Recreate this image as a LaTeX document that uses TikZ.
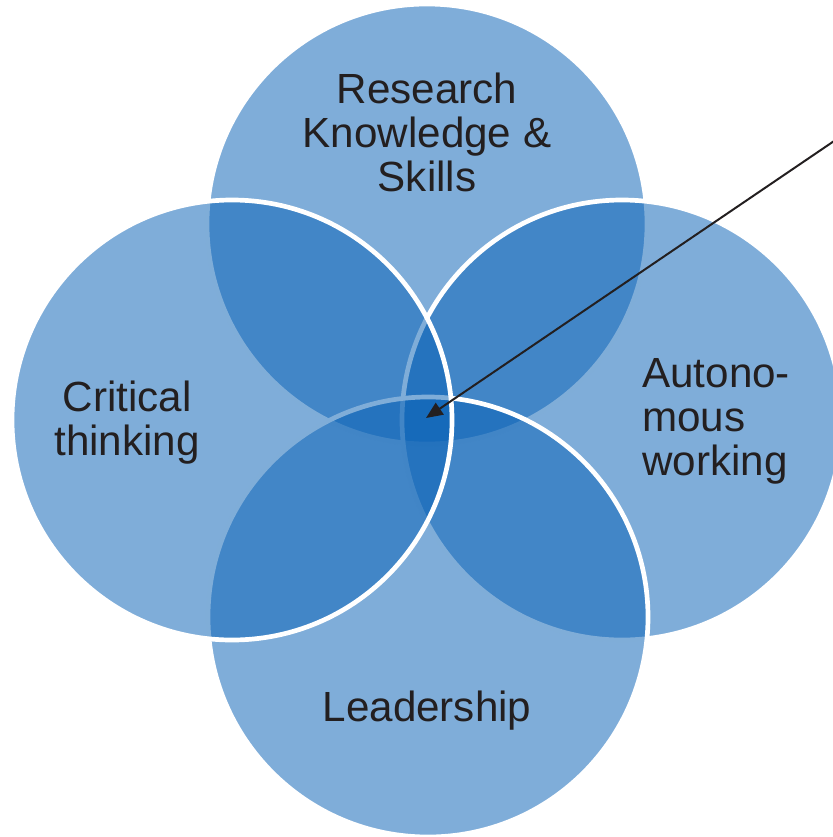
\documentclass[tikz,border=0pt]{standalone}
\usepackage{fontspec}
\setmainfont{Liberation Sans}
\usetikzlibrary{arrows.meta}
\definecolor{vblue}{RGB}{10,98,182}
\definecolor{vtext}{RGB}{35,31,32}
\begin{document}
\begin{tikzpicture}[x=0.03cm,y=-0.03cm,
  venn/.style={circle, minimum size=13.2cm, inner sep=0pt, fill=vblue, fill opacity=0.52, draw=white, line width=4pt},
  lbl/.style={font=\fontsize{36}{37.5}\selectfont, text=vtext, inner sep=0pt},
  pointer/.style={draw=vtext, line width=1.7pt, -{Triangle[length=0.5cm,width=0.42cm]}}]
\useasboundingbox (0,0) rectangle (832,837);
\node[venn] (top) at (427,224) {};
\node[venn] (right) at (622,420) {};
\node[venn] (bottom) at (428,617) {};
\node[venn] (left) at (232,420) {};
\node[lbl, align=center, anchor=base] (research) at (427,191) {Research\\Knowledge \&\\Skills};
\node[lbl, align=center, anchor=base] (critical) at (127,455) {Critical\\thinking};
\node[lbl, align=left, anchor=base west] (auto) at (642,475) {Autono-\\mous\\working};
\node[lbl, anchor=base] (lead) at (427,721) {Leadership};
\coordinate (astart) at (840,137);
\coordinate (core) at (426,418);
\draw[pointer] (astart) -- (core);
\end{tikzpicture}
\end{document}
